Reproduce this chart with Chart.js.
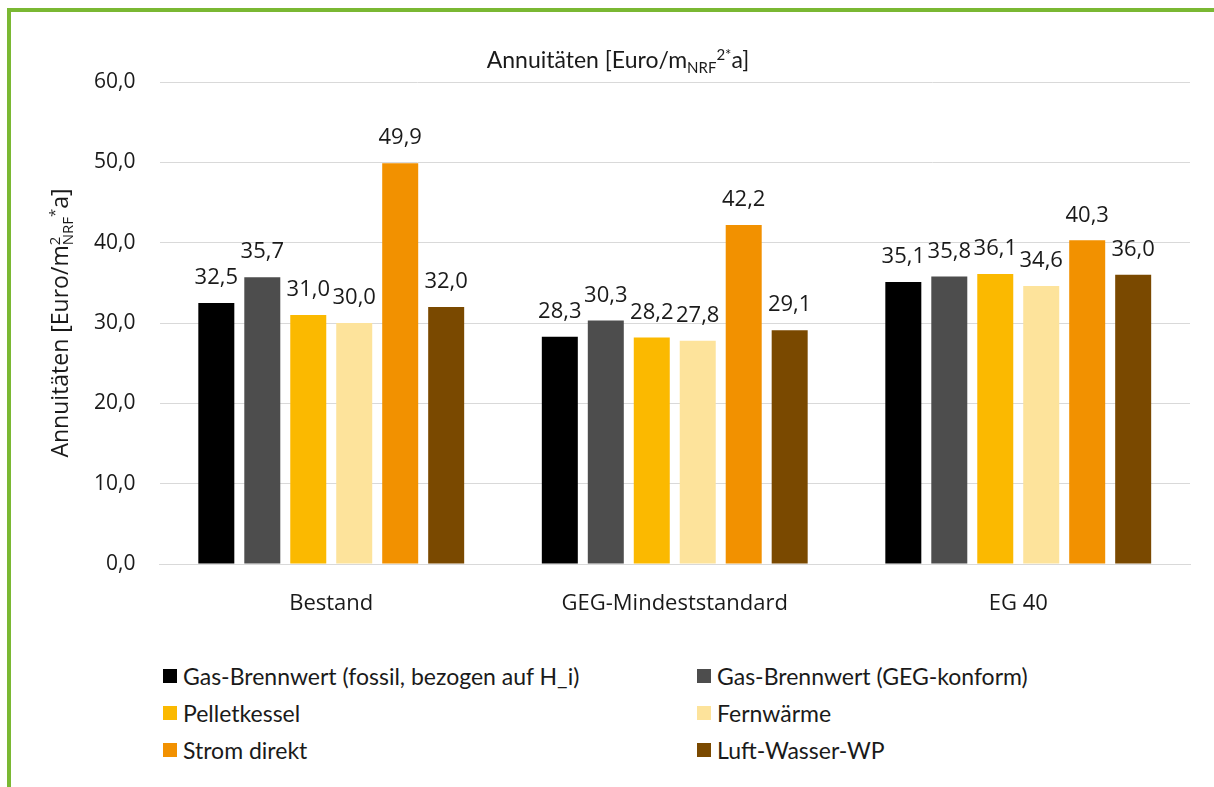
<!DOCTYPE html>
<html>
<head>
<meta charset="utf-8">
<script src="https://cdn.jsdelivr.net/npm/chart.js@4/dist/chart.umd.min.js"></script>
<style>
  body { margin: 0; background: #fff; width: 1214px; height: 787px; overflow: hidden; position: relative; }
  #frame { position: absolute; left: 7px; top: 8px; width: 1207px; height: 779px;
           border-left: 4px solid #7ab833; border-top: 4px solid #7ab833; }
  #chart { position: absolute; left: 11px; top: 12px; }
  #legend { position: absolute; left: 163px; top: 657px; display: grid;
            grid-template-columns: 534px 420px; grid-auto-rows: 37px;
            font-family: Lato, sans-serif; font-size: 23px; color: #1a1a1a; }
  #legend div { display: flex; align-items: center; white-space: nowrap; }
  #legend span.box { display: inline-block; width: 14px; height: 14px; margin-right: 6px; }
</style>
</head>
<body>
<div id="frame"></div>
<canvas id="chart" width="1203" height="628"></canvas>
<div id="legend"></div>
<script>
// scenarios on the x axis
const categories = ['Bestand', 'GEG-Mindeststandard', 'EG 40'];

// heating systems
const seriesNames = [
    'Gas-Brennwert (fossil, bezogen auf H_i)',
    'Gas-Brennwert (GEG-konform)',
    'Pelletkessel',
    'Fernwärme',
    'Strom direkt',
    'Luft-Wasser-WP'
];
const seriesColors = ['#000000', '#4d4d4d', '#fbb900', '#fde39b', '#f29100', '#7a4900'];

// annuities per scenario, Euro/m²NRF*a
const gasFossil = [32.5, 28.3, 35.1];
const gasGeg = [35.7, 30.3, 35.8];
const pelletkessel = [31.0, 28.2, 36.1];
const fernwaerme = [30.0, 27.8, 34.6];
const stromDirekt = [49.9, 42.2, 40.3];
const luftWasserWp = [32.0, 29.1, 36.0];

const seriesValues = [gasFossil, gasGeg, pelletkessel, fernwaerme, stromDirekt, luftWasserWp];

// y axis ticks
const yTicks = [0, 10, 20, 30, 40, 50, 60];

const fmt = v => v.toFixed(1).replace('.', ',');

// draws a line of text with sub/superscript pieces, centred on (0,0)
function drawRichText(ctx, runs, base, family) {
    const small = Math.round(base * 0.65);
    let total = 0;
    runs.forEach(r => {
        ctx.font = (r.sub || r.sup ? small : base) + 'px ' + family;
        r.w = ctx.measureText(r.t).width;
        if (!r.stay) total += r.w;
    });
    let x = -total / 2;
    ctx.textAlign = 'left';
    ctx.textBaseline = 'alphabetic';
    runs.forEach(r => {
        ctx.font = (r.sub || r.sup ? small : base) + 'px ' + family;
        let dy = base * 0.35;
        if (r.sub) dy += 5;
        if (r.sup) dy -= 8;
        ctx.fillText(r.t, x, dy);
        if (!r.stay) x += r.w;
    });
}

const titlePlugin = {
    id: 'titles',
    afterDraw(chart) {
        const ctx = chart.ctx;
        const area = chart.chartArea;
        ctx.save();
        ctx.fillStyle = '#1a1a1a';
        ctx.translate(607, 48);
        drawRichText(ctx, [
            { t: 'Annuitäten [Euro/m' },
            { t: 'NRF', sub: true },
            { t: '2*', sup: true },
            { t: 'a]' }
        ], 23, 'Lato, sans-serif');
        ctx.restore();

        ctx.save();
        ctx.fillStyle = '#1a1a1a';
        ctx.translate(49, (area.top + area.bottom) / 2);
        ctx.rotate(-Math.PI / 2);
        drawRichText(ctx, [
            { t: 'Annuitäten [Euro/m' },
            { t: '2', sup: true, stay: true },
            { t: 'NRF', sub: true },
            { t: '*', sup: true },
            { t: 'a]' }
        ], 23, '"Open Sans", sans-serif');
        ctx.restore();
    }
};

const valueLabels = {
    id: 'valueLabels',
    afterDatasetsDraw(chart) {
        const ctx = chart.ctx;
        ctx.save();
        ctx.font = '22px "Open Sans", sans-serif';
        ctx.fillStyle = '#1a1a1a';
        ctx.textAlign = 'center';
        ctx.textBaseline = 'middle';
        chart.data.datasets.forEach((ds, i) => {
            chart.getDatasetMeta(i).data.forEach((bar, j) => {
                ctx.fillText(fmt(ds.data[j]), bar.x, bar.y - 25);
            });
        });
        ctx.restore();
    }
};

new Chart(document.getElementById('chart').getContext('2d'), {
    type: 'bar',
    data: {
        labels: categories,
        datasets: seriesNames.map((name, i) => ({
            label: name,
            data: seriesValues[i],
            backgroundColor: seriesColors[i],
            categoryPercentage: 0.803,
            barPercentage: 0.783
        }))
    },
    options: {
        responsive: false,
        animation: false,
        layout: { padding: { top: 70, right: 24, left: 0, bottom: 0 } },
        plugins: {
            legend: { display: false },
            title: { display: false },
            tooltip: { enabled: false }
        },
        scales: {
            x: {
                grid: { display: false },
                border: { color: '#d9d9d9', width: 1 },
                ticks: { color: '#1a1a1a', padding: 19, font: { family: '"Open Sans", sans-serif', size: 22 } },
                afterFit(scale) { scale.height = 76; }
            },
            y: {
                min: yTicks[0],
                max: yTicks[yTicks.length - 1],
                afterBuildTicks(scale) { scale.ticks = yTicks.map(v => ({ value: v })); },
                grid: { color: '#d9d9d9', drawTicks: false },
                border: { display: false },
                ticks: {
                    color: '#1a1a1a',
                    padding: 24,
                    font: { family: '"Open Sans", sans-serif', size: 21 },
                    callback: v => fmt(v)
                },
                afterFit(scale) { scale.width = 148.5; }
            }
        }
    },
    plugins: [titlePlugin, valueLabels]
});

// legend in two columns
const legend = document.getElementById('legend');
seriesNames.forEach((name, i) => {
    const item = document.createElement('div');
    const box = document.createElement('span');
    box.className = 'box';
    box.style.background = seriesColors[i];
    item.appendChild(box);
    item.appendChild(document.createTextNode(name));
    legend.appendChild(item);
});
</script>
</body>
</html>
